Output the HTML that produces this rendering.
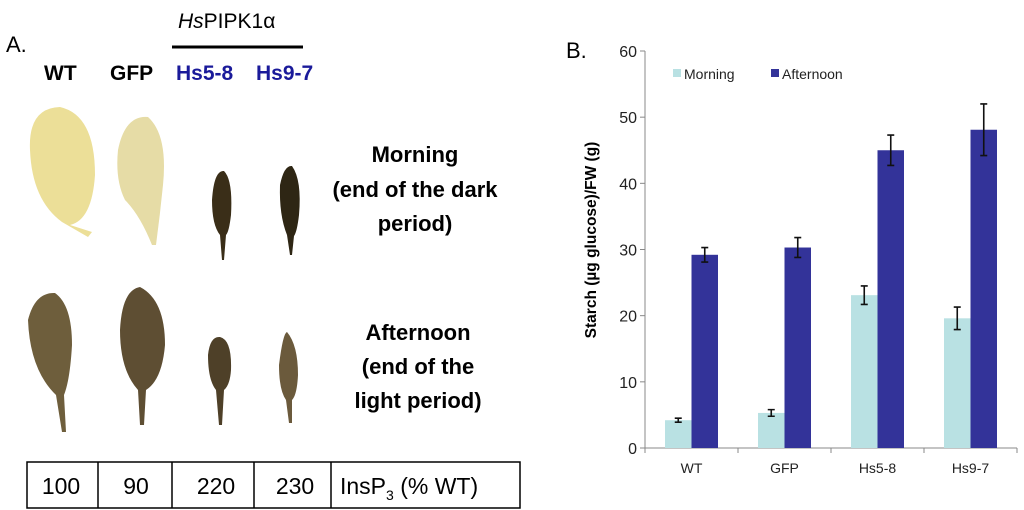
<!DOCTYPE html>
<html><head><meta charset="utf-8"><style>
body{margin:0;background:#fff;width:1024px;height:510px;overflow:hidden;font-family:"Liberation Sans",sans-serif}
svg{position:absolute;left:0;top:0}
</style></head><body>
<svg width="1024" height="510">
<g>
<text x="6" y="52" font-size="22">A.</text>
<text x="178" y="28" font-size="21"><tspan font-style="italic">Hs</tspan>PIPK1α</text>
<line x1="172" y1="47" x2="303" y2="47" stroke="#000" stroke-width="3"/>
<g font-weight="bold" font-size="21">
<text x="44" y="80">WT</text>
<text x="110" y="80">GFP</text>
<text x="176" y="80" fill="#1a1a9a">Hs5-8</text>
<text x="256" y="80" fill="#1a1a9a">Hs9-7</text>
</g>
<g>
<path d="M30 150 Q28 108 60 107 Q95 115 95 175 Q92 220 70 225 L92 232 L88 237 L62 222 Q32 200 30 150Z" fill="#ecdf98"/>
<path d="M118 150 Q125 115 148 117 Q168 135 163 185 Q160 215 156 245 L152 245 Q140 215 125 200 Q115 180 118 150Z" fill="#e6dca6"/>
<path d="M212 200 Q214 170 224 171 Q233 180 231 215 Q229 232 226 235 L224 260 L222 260 L220 235 Q212 225 212 200Z" fill="#3a2e18"/>
<path d="M280 185 Q284 165 292 166 Q302 180 299 215 Q297 232 294 236 L292 255 L290 255 L287 235 Q279 215 280 185Z" fill="#2e2614"/>
</g>
<g>
<path d="M28 320 Q35 292 55 293 Q72 305 72 345 Q70 380 64 395 L66 432 L62 432 L56 395 Q30 370 28 320Z" fill="#6e5e3c"/>
<path d="M120 330 Q122 290 140 287 Q165 300 165 345 Q162 380 146 390 L144 425 L140 425 L138 390 Q120 370 120 330Z" fill="#5e4e33"/>
<path d="M208 355 Q210 336 220 337 Q232 340 231 370 Q230 385 224 390 L222 425 L219 425 L216 390 Q208 380 208 355Z" fill="#4e4028"/>
<path d="M279 365 Q283 333 287 332 Q298 345 298 375 Q297 395 292 400 L292 423 L289 423 L286 400 Q279 390 279 365Z" fill="#6b5a3c"/>
</g>
<g font-weight="bold" font-size="22" text-anchor="middle">
<text x="415" y="162">Morning</text>
<text x="415" y="197">(end of the dark</text>
<text x="415" y="231">period)</text>
<text x="418" y="340">Afternoon</text>
<text x="418" y="374">(end of the</text>
<text x="418" y="408">light period)</text>
</g>
<g>
<rect x="27" y="462" width="493" height="46" fill="none" stroke="#000" stroke-width="1.5"/>
<line x1="98" y1="462" x2="98" y2="508" stroke="#000" stroke-width="1.5"/>
<line x1="172" y1="462" x2="172" y2="508" stroke="#000" stroke-width="1.5"/>
<line x1="254" y1="462" x2="254" y2="508" stroke="#000" stroke-width="1.5"/>
<line x1="331" y1="462" x2="331" y2="508" stroke="#000" stroke-width="1.5"/>
<g font-size="23" text-anchor="middle">
<text x="61" y="494">100</text>
<text x="136" y="494">90</text>
<text x="216" y="494">220</text>
<text x="295" y="494">230</text>
</g>
<text x="340" y="494" font-size="23">InsP<tspan font-size="14" dy="6">3</tspan><tspan dy="-6"> (% WT)</tspan></text>
</g>
</g>
<g id="chart">
<text x="566" y="58" font-size="22">B.</text>
<text transform="translate(596,240) rotate(-90)" text-anchor="middle" font-size="15.5" font-weight="bold">Starch (µg glucose)/FW (g)</text>
</g>
</svg>
<script>
const categories=["WT","GFP","Hs5-8","Hs9-7"];
const morning=[4.2,5.3,23.1,19.6];
const afternoon=[29.2,30.3,45.0,48.1];
const morningErr=[0.3,0.5,1.4,1.7];
const afternoonErr=[1.1,1.5,2.3,3.9];
const yTicks=[0,10,20,30,40,50,60];
const NS="http://www.w3.org/2000/svg";
const g=document.getElementById('chart');
const x0=645,x1=1017,yTop=51,yBot=448,yMax=60;
const y=v=>yBot-(v/yMax)*(yBot-yTop);
const bw=(x1-x0)/categories.length;
function mk(t,a){const e=document.createElementNS(NS,t);for(const k in a)e.setAttribute(k,a[k]);g.appendChild(e);return e;}
let e=mk('line',{x1:x0,y1:yTop,x2:x0,y2:yBot,stroke:'#888','stroke-width':1});


e=mk('line',{x1:x0,y1:yBot,x2:x1,y2:yBot,stroke:'#888','stroke-width':1});


yTicks.forEach(t=>{
  let l=mk('line',{x1:x0-5,y1:y(t),x2:x0,y2:y(t),stroke:'#888'});
  
  
  let tx=mk('text',{x:x0-8,y:y(t)+6,'text-anchor':'end','font-size':16,fill:'#222'});
  tx.textContent=t;
  
  
});
for(let i=0;i<=categories.length;i++){
  let l=mk('line',{x1:x0+i*bw,y1:yBot,x2:x0+i*bw,y2:yBot+5,stroke:'#888'});
  
  
}
const w=26.5;
function bar(cx,v,err,fill,name){
  let r=mk('rect',{x:cx,y:y(v),width:w,height:yBot-y(v),fill:fill});
  
  
  const m=cx+w/2;
  let p=mk('path',{d:`M${m} ${y(v+err)}V${y(v-err)}M${m-3.5} ${y(v+err)}H${m+3.5}M${m-3.5} ${y(v-err)}H${m+3.5}`,stroke:'#111','stroke-width':1.6,fill:'none'});
  
  
}
categories.forEach((c,i)=>{
  const cx=x0+bw*(i+0.5);
  bar(cx-w,morning[i],morningErr[i],'#b9e1e3','bar-morning');
  bar(cx,afternoon[i],afternoonErr[i],'#333399','bar-afternoon');
  let t=mk('text',{x:cx,y:yBot+25,'text-anchor':'middle','font-size':14,fill:'#222'});
  t.textContent=c;
  
  
});
[['Morning','#b9e1e3',673],['Afternoon','#333399',771]].forEach(([n,c,lx])=>{
  let s=mk('rect',{x:lx,y:69,width:8,height:8,fill:c});
  
  
  let t=mk('text',{x:lx+11,y:79,'font-size':14,fill:'#222'});
  t.textContent=n;
  
  
});
</script>
</body></html>
